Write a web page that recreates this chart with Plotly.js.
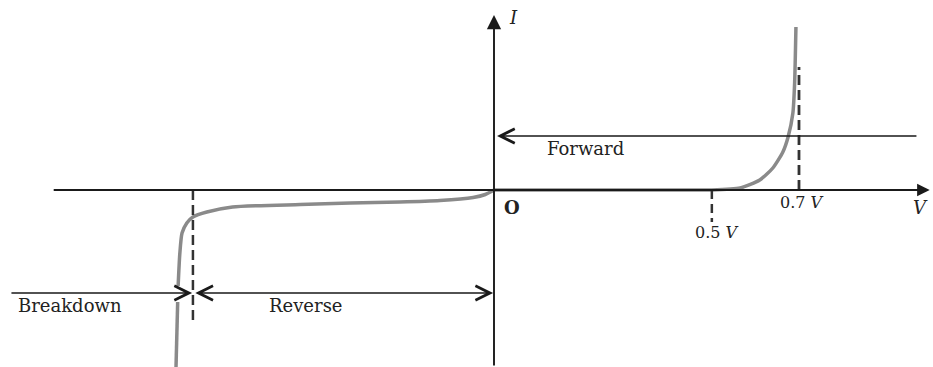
<!DOCTYPE html>
<html>
<head>
<meta charset="utf-8">
<script src="https://cdn.plot.ly/plotly-3.0.1.min.js"></script>
<style>
html,body{margin:0;padding:0;background:#fff;}
#chart{width:933px;height:367px;}
</style>
</head>
<body>
<div id="chart"></div>
<script>
// Forward-bias branch (V in volts, I in arbitrary current units)
var forwardV = [0, 0.2, 0.4, 0.5, 0.565, 0.61, 0.64, 0.663, 0.675, 0.686, 0.69, 0.693];
var forwardI = [0, 0, 0, 0, 0.2, 1.0, 2.2, 3.8, 5.3, 7.7, 10.7, 16.3];

// Reverse-bias and breakdown branch (null = gap where the arrow crosses)
var reverseV = [0, -0.02, -0.048, -0.124, -0.216, -0.33, -0.445, -0.6, -0.659, -0.691, -0.705, -0.716, -0.721, -0.725, null, -0.726, -0.730];
var reverseI = [0, -0.45, -0.75, -1.05, -1.2, -1.3, -1.45, -1.7, -2.2, -2.7, -3.3, -4.3, -6.3, -9.6, null, -11.2, -18.0];

// Reference voltages (dashed markers)
var kneeForwardV = 0.7, kneeForwardTop = 12.3;
var startForwardV = 0.5, startForwardBottom = -3.2;
var breakdownV = -0.691, breakdownBottom = -13.5;

// Labels
var labelTexts = ['I', 'O', 'V', '0.7 <i>V</i>', '0.5 <i>V</i>', 'Forward', 'Breakdown', 'Reverse'];
var labelV = [0.044, 0.041, 0.978, 0.707, 0.512, 0.211, -0.973, -0.431];
var labelI = [17.3, -1.7, -1.7, -1.2, -4.2, 4.2, -11.5, -11.5];

// Axis extents and arrow positions
var xAxisFrom = -1.014, xAxisTo = 1.0;
var yAxisFrom = -17.7, yAxisTo = 17.5;
var forwardArrowY = 5.4, forwardArrowFrom = 0.973, forwardArrowTo = 0.007;
var regionArrowY = -10.3, breakdownArrowFrom = -1.111, reverseArrowFrom = -0.689, reverseArrowTo = -0.002;

var curveColor = '#8a8a8a';
var ink = '#1a1a1a';
var fontFam = '"DejaVu Serif", "Liberation Serif", serif';

var traces = [
  {x: forwardV, y: forwardI, mode: 'lines', line: {color: curveColor, width: 3.5, shape: 'spline', smoothing: 0.6}, hoverinfo: 'skip'},
  {x: reverseV, y: reverseI, mode: 'lines', line: {color: curveColor, width: 3.5, shape: 'spline', smoothing: 0.6}, connectgaps: false, hoverinfo: 'skip'},
  {x: [kneeForwardV, kneeForwardV], y: [0, kneeForwardTop], mode: 'lines', line: {color: '#333', width: 2.8, dash: '10px,5px'}, hoverinfo: 'skip'},
  {x: [startForwardV, startForwardV], y: [0, startForwardBottom], mode: 'lines', line: {color: '#333', width: 2.5, dash: '9px,5px'}, hoverinfo: 'skip'},
  {x: [breakdownV, breakdownV], y: [0, breakdownBottom], mode: 'lines', line: {color: '#333', width: 2.5, dash: '10px,5px'}, hoverinfo: 'skip'}
];

var annotations = [];
function arrow(x, y, ax, ay, head, size, width, both) {
  var a = {x: x, y: y, ax: ax, ay: ay, xref: 'x', yref: 'y', axref: 'x', ayref: 'y',
    text: '', showarrow: true, arrowhead: head, arrowsize: size, arrowwidth: width, arrowcolor: ink};
  if (both) { a.arrowside = 'end+start'; a.startarrowhead = head; a.startarrowsize = size; }
  annotations.push(a);
}
// axes
arrow(xAxisTo, 0, xAxisFrom, 0, 2, 1.4, 1.8, false);
arrow(0, yAxisTo, 0, yAxisFrom, 2, 1.5, 1.9, false);
// forward arrow
arrow(forwardArrowTo, forwardArrowY, forwardArrowFrom, forwardArrowY, 5, 2.2, 1.3, false);
// breakdown arrow
arrow(breakdownV - 0.002, regionArrowY, breakdownArrowFrom, regionArrowY, 5, 2.2, 1.3, false);
// reverse double arrow
arrow(reverseArrowTo, regionArrowY, reverseArrowFrom, regionArrowY, 5, 2.2, 1.3, true);

var styles = [
  {size: 18, italic: true},
  {size: 18, bold: true},
  {size: 18, italic: true},
  {size: 16},
  {size: 16},
  {size: 18},
  {size: 18},
  {size: 18}
];
for (var i = 0; i < labelTexts.length; i++) {
  var t = labelTexts[i];
  if (styles[i].italic) t = '<i>' + t + '</i>';
  if (styles[i].bold) t = '<b>' + t + '</b>';
  annotations.push({x: labelV[i], y: labelI[i], xref: 'x', yref: 'y', text: t, showarrow: false,
    xanchor: 'center', yanchor: 'middle',
    font: {family: fontFam, size: styles[i].size, color: '#222'}});
}

var layout = {
  width: 933, height: 367,
  margin: {l: 0, r: 0, t: 0, b: 0},
  paper_bgcolor: '#fff', plot_bgcolor: '#fff',
  showlegend: false,
  xaxis: {range: [-494 / 435.7, 439 / 435.7], visible: false, fixedrange: true},
  yaxis: {range: [-17.7, 19.0], visible: false, fixedrange: true},
  annotations: annotations
};

Plotly.newPlot('chart', traces, layout, {staticPlot: true, displayModeBar: false});
</script>
</body>
</html>
